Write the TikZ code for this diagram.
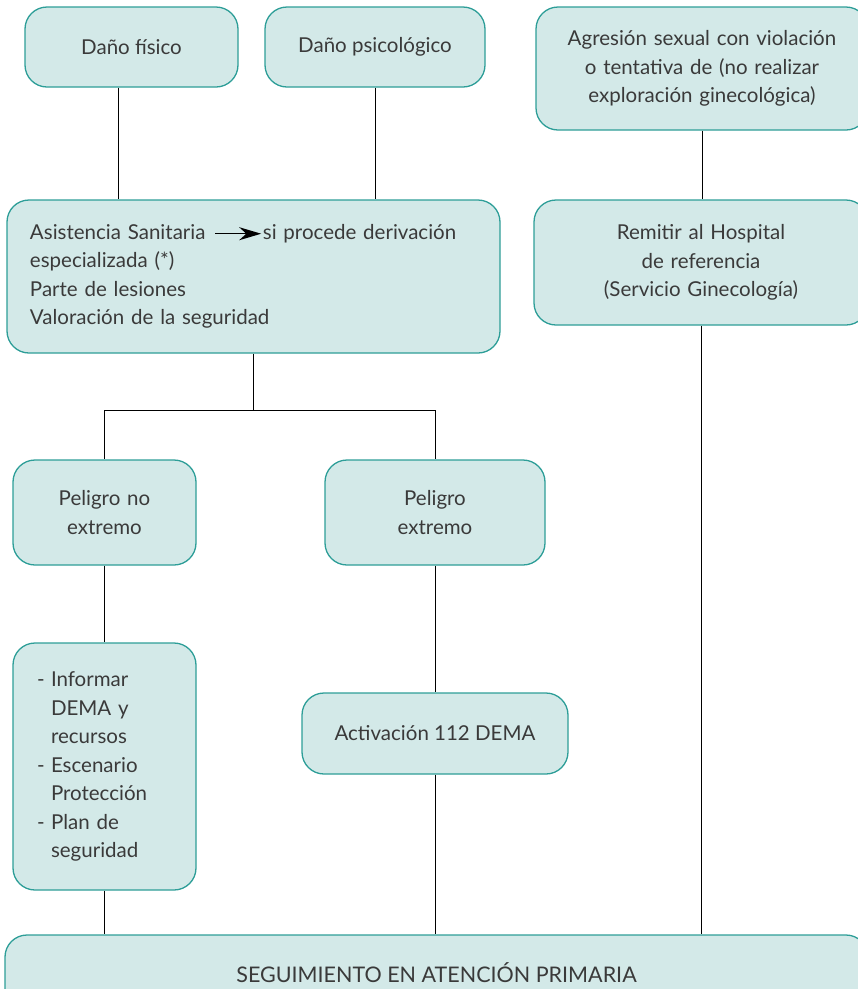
\documentclass[tikz,border=0pt]{standalone}
\usepackage{fontspec}
\setmainfont{Lato}
\usetikzlibrary{positioning,arrows.meta}

\definecolor{cajafondo}{HTML}{D3E9E8}
\definecolor{cajaborde}{HTML}{2E9E98}
\definecolor{textogris}{HTML}{3A3A3A}

\newcommand{\guion}{\makebox[14pt][l]{-}}
\newcommand{\sangria}{\hspace*{14pt}}

\begin{document}
\begin{tikzpicture}[
	x=1pt, y=-1pt,
	font=\fontsize{20.5}{28.5}\selectfont,
	caja/.style={draw=cajaborde,fill=cajafondo,line width=1.3pt,rounded corners=22pt,
		text=textogris,align=center,inner sep=0pt},
	linea/.style={draw=black,line width=0.9pt}
	]
	\useasboundingbox (0,0) rectangle (858,989);
	\clip (0,0) rectangle (858,989);
	% fila superior
	\node[caja,minimum width=213,minimum height=80] (fisico) at (131.5,47) {Daño físico};
	\node[caja,minimum width=220,minimum height=80] (psico) at (375,47) {Daño psicológico};
	\node[caja,minimum width=332,minimum height=123,text width=310] (agresion) at (702,68.5)
		{Agresión sexual con violación\\ o tentativa de (no realizar\\ exploración ginecológica)};
	% segunda fila
	\node[caja,minimum width=493,minimum height=153,text width=447,align=left] (asistencia) at (253.5,276.5)
		{Asistencia Sanitaria\hspace{9pt}\tikz[baseline=-0.55ex]\draw[black,line width=1.4pt,-{Stealth[length=22pt,width=13pt]}] (0pt,0pt) -- (46pt,0pt);\hspace{1pt}si procede derivación\\
		especializada (*)\\
		Parte de lesiones\\
		Valoración de la seguridad};
	\node[caja,minimum width=334,minimum height=125,text width=300] (remitir) at (701,262.5)
		{Remitir al Hospital\\ de referencia\\ (Servicio Ginecología)};
	% peligro
	\node[caja,minimum width=183,minimum height=105,text width=150] (noextremo) at (104.5,512.5) {Peligro no\\ extremo};
	\node[caja,minimum width=220,minimum height=105,text width=180] (extremo) at (435,512.5) {Peligro\\ extremo};
	% acciones
	\node[caja,minimum width=183,minimum height=247,text width=135,align=left] (informar) at (104.5,766.5)
		{\guion Informar\\ \sangria DEMA y\\ \sangria recursos\\ \guion Escenario\\ \sangria Protección\\ \guion Plan de\\ \sangria seguridad};
	\node[caja,minimum width=266,minimum height=81] (activacion) at (435,733.5) {Activación 112 DEMA};
	\node[caja,minimum width=863,minimum height=76,font=\fontsize{21.5}{28}\selectfont] (seguimiento) at (436.5,973) {SEGUIMIENTO EN ATENCIÓN PRIMARIA};

	\draw[linea] ([xshift=-13pt]fisico.south) -- ([xshift=-13pt]fisico.south |- asistencia.north);
	\draw[linea] (psico.south) -- (psico.south |- asistencia.north);
	\draw[linea] (agresion.south) -- (agresion.south |- remitir.north);
	\draw[linea] (asistencia.south) -- ++(0,57) coordinate (rama) -| (noextremo.north);
	\draw[linea] (rama) -| (extremo.north);
	\draw[linea] (noextremo.south) -- (informar.north);
	\draw[linea] (informar.south) -- (informar.south |- seguimiento.north);
	\draw[linea] (extremo.south) -- (activacion.north);
	\draw[linea] (activacion.south) -- (activacion.south |- seguimiento.north);
	\draw[linea] (remitir.south) -- (remitir.south |- seguimiento.north);
\end{tikzpicture}
\end{document}
